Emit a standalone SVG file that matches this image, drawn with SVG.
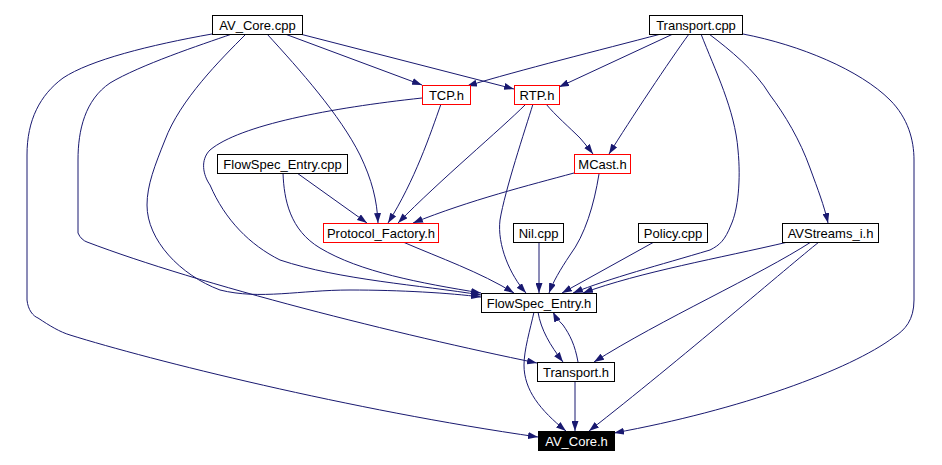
<svg xmlns="http://www.w3.org/2000/svg" width="942" height="465" viewBox="0 0 942 465">
<defs>
<marker id="arr" markerWidth="10" markerHeight="7" refX="10" refY="3.5" orient="auto" markerUnits="userSpaceOnUse">
<path d="M0,0 L10,3.5 L0,7 z" fill="#191970" stroke="none"/>
</marker>
<style>
.node rect{fill:#ffffff;stroke:#000000;stroke-width:1}
.node.red rect{stroke:#ff0000}
.node.root rect{fill:#000000;stroke:#000000}
.node text{font-family:"Liberation Sans",Arial,sans-serif;font-size:13px;text-anchor:middle;fill:#000000}
.node.root text{fill:#ffffff}
#edges path{fill:none;stroke:#191970;stroke-width:1;marker-end:url(#arr)}
</style>
</defs>
<rect width="942" height="465" fill="#ffffff"/>
<g id="edges">
<path d="M212,34 C150,45 90,60 63,78 C40,95 27,120 27,155 L27,300 C28,310 33,316 38,318 C50,326 60,332 70,335 C150,360 350,410 538,437"/>
<path d="M232,34 C200,45 140,65 110,83 C85,100 78,130 78,160 L78,233 C80,238 84,241 87,242 C200,285 400,335 537,363"/>
<path d="M246,34 C220,60 180,100 165,140 C155,165 147,185 147,205 C147,240 180,275 220,290 C260,300 300,290 350,290 C400,290 450,293 481,297"/>
<path d="M267,34 C300,70 340,115 360,155 C372,180 377,200 378,223"/>
<path d="M285,34 L422,85"/>
<path d="M300,34 L514,89"/>
<path d="M422,98 C330,108 240,125 210,150 C200,160 203,175 210,185 C225,220 250,245 280,260 C340,280 420,285 481,295"/>
<path d="M441,104 C430,135 415,180 388,223"/>
<path d="M533,104 C525,130 505,190 500,220 C497,245 510,275 526,293"/>
<path d="M526,104 C500,130 440,180 398,223"/>
<path d="M546,104 C555,115 570,128 580,138 C586,145 590,150 593,154"/>
<path d="M661,34 C600,50 520,70 467,86"/>
<path d="M673,34 L559,87"/>
<path d="M689,34 C670,60 630,120 609,154"/>
<path d="M701,34 C715,70 735,110 738,150 C741,180 738,210 731,225 C725,240 720,245 710,250 C660,265 610,278 573,293"/>
<path d="M709,34 C730,50 755,70 770,95 C785,115 800,140 810,168 C818,190 824,205 828,223"/>
<path d="M743,34 C800,45 860,70 890,100 C908,118 914,140 914,160 L914,300 C914,320 905,330 894,337 C850,370 740,410 614,433"/>
<path d="M297,173 L367,223"/>
<path d="M283,173 C284,200 290,230 320,248 C360,272 420,283 481,293"/>
<path d="M574,173 C530,185 470,200 413,223"/>
<path d="M599,174 C594,205 585,235 570,255 C560,270 553,282 549,293"/>
<path d="M403,242 C440,258 480,272 514,293"/>
<path d="M539,242 L539,293"/>
<path d="M654,242 L562,293"/>
<path d="M788,242 C720,258 640,272 583,293"/>
<path d="M811,242 C760,275 660,320 594,362"/>
<path d="M819,242 C790,265 680,360 589,431"/>
<path d="M538,312 C541,330 550,345 563,362"/>
<path d="M578,362 C575,345 570,335 563,325 C558,320 555,316 553,312"/>
<path d="M534,312 C530,330 524,350 524,365 C524,390 540,410 566,431"/>
<path d="M575,381 L575,431"/>
</g>
<g id="n_av_core_cpp" class="node"><rect x="212.5" y="15.5" width="90" height="19"/><text x="257.5" y="29.5">AV_Core.cpp</text></g>
<g id="n_transport_cpp" class="node"><rect x="649.5" y="15.5" width="93" height="19"/><text x="696" y="29.5">Transport.cpp</text></g>
<g id="n_tcp_h" class="node red"><rect x="422.5" y="85.5" width="48" height="19"/><text x="446.5" y="99.5">TCP.h</text></g>
<g id="n_rtp_h" class="node red"><rect x="514.5" y="85.5" width="45" height="19"/><text x="537" y="99.5">RTP.h</text></g>
<g id="n_mcast_h" class="node red"><rect x="574.5" y="154.5" width="56" height="19"/><text x="602.5" y="168.5">MCast.h</text></g>
<g id="n_flowspec_entry_cpp" class="node"><rect x="217.5" y="154.5" width="130" height="19"/><text x="282.5" y="168.5">FlowSpec_Entry.cpp</text></g>
<g id="n_protocol_factory_h" class="node red"><rect x="323.5" y="223.5" width="115" height="19"/><text x="381" y="237.5">Protocol_Factory.h</text></g>
<g id="n_nil_cpp" class="node"><rect x="513.5" y="223.5" width="50" height="19"/><text x="538.5" y="237.5">Nil.cpp</text></g>
<g id="n_policy_cpp" class="node"><rect x="638.5" y="223.5" width="69" height="19"/><text x="673" y="237.5">Policy.cpp</text></g>
<g id="n_avstreams_i_h" class="node"><rect x="782.5" y="223.5" width="96" height="19"/><text x="830.5" y="237.5">AVStreams_i.h</text></g>
<g id="n_flowspec_entry_h" class="node"><rect x="481.5" y="293.5" width="115" height="19"/><text x="539" y="307.5">FlowSpec_Entry.h</text></g>
<g id="n_transport_h" class="node"><rect x="537.5" y="362.5" width="77" height="19"/><text x="576" y="376.5">Transport.h</text></g>
<g id="n_av_core_h" class="node root"><rect x="538.5" y="431.5" width="76" height="19"/><text x="576.5" y="445.5">AV_Core.h</text></g>
</svg>
